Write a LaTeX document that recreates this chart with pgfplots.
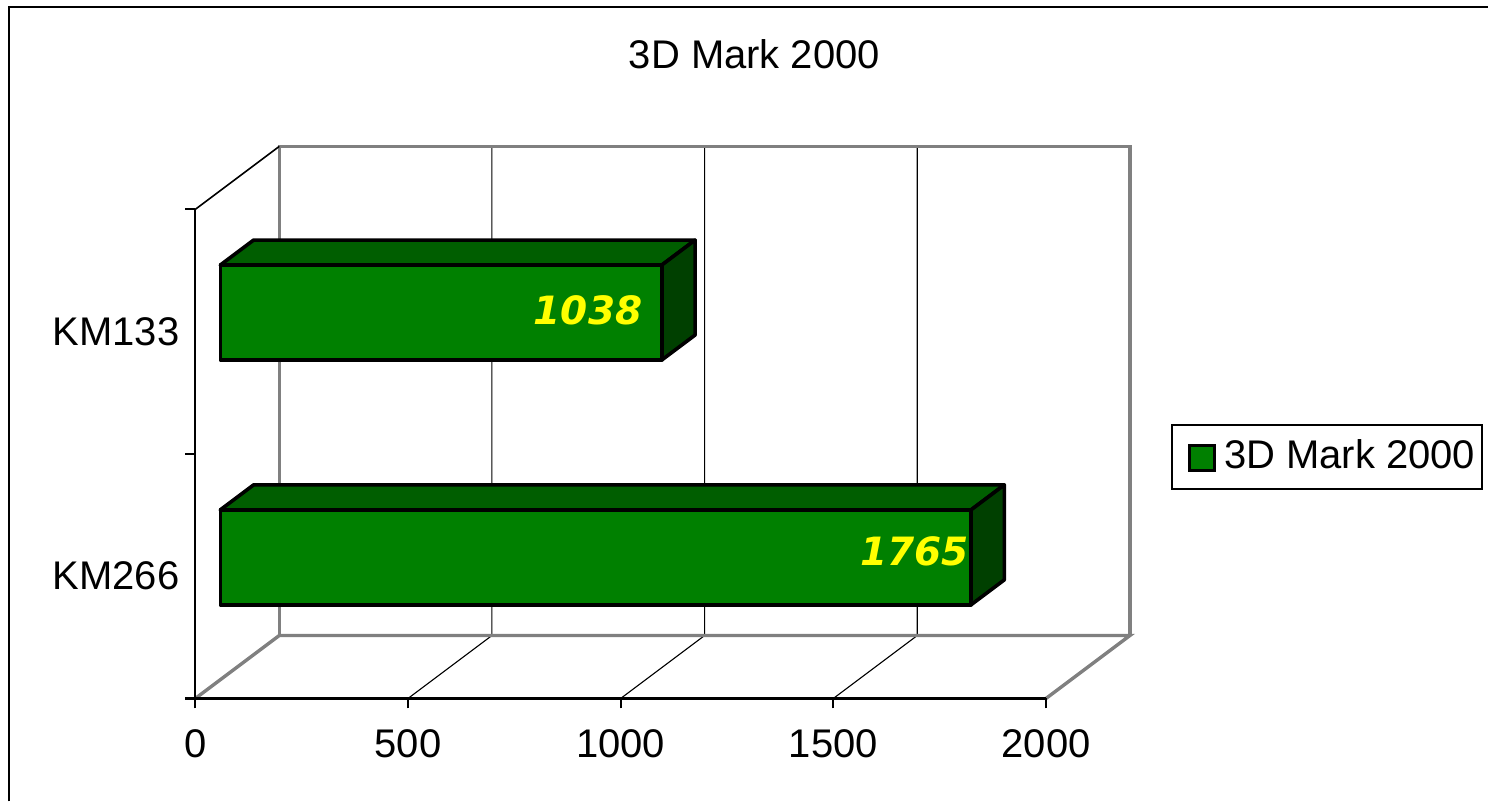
\documentclass[border=0pt]{standalone}
\usepackage{fontspec}
\setmainfont{Liberation Sans}
\newfontfamily\valfont{DejaVu Sans}
\usepackage{pgfplots}
\pgfplotsset{compat=1.18}

\definecolor{barfront}{RGB}{0,128,0}
\definecolor{bartop}{RGB}{0,94,0}
\definecolor{barside}{RGB}{0,64,0}
\definecolor{wallgray}{RGB}{128,128,128}
\definecolor{valyellow}{RGB}{255,255,0}
\newcommand\bigfont{\fontsize{20}{24}\selectfont}

% 1 px of the reference = 0.5pt; x = score, y = depth (0 front .. 1 back), z = height
\begin{document}
\bigfont
\begin{tikzpicture}
% walls, floor and the 3D bars
\begin{axis}[
  at={(0,0)}, anchor=origin,
  x={(0.21285pt,0pt)}, y={(42pt,31.5pt)}, z={(0pt,0.5pt)},
  xmin=0, xmax=2000, ymin=0, ymax=1, zmin=0, zmax=489.5,
  hide axis, clip=false,
]
  % grid on floor and back wall
  \addplot3[black, line width=0.55pt] coordinates {(500,0,0) (500,1,0) (500,1,489.5)};
  \addplot3[black, line width=0.55pt] coordinates {(1000,0,0) (1000,1,0) (1000,1,489.5)};
  \addplot3[black, line width=0.55pt] coordinates {(1500,0,0) (1500,1,0) (1500,1,489.5)};
  % floor and back wall edges
  \addplot3[wallgray, line width=1.7pt] coordinates {(0,0,0) (0,1,0) (2000,1,0) (2000,0,0)};
  \addplot3[wallgray, line width=1.7pt] coordinates {(0,1,0) (0,1,489.5) (2000,1,489.5) (2000,1,0)};
  \addplot3[black, line width=0.8pt] coordinates {(0,0,489.5) (0,1,489.5)};

  % KM133 = 1038
  \addplot3[fill=bartop, draw=black, line width=1.8pt, line join=round]
    coordinates {(0,0.2976,415) (1038,0.2976,415) (1038,0.694,415) (0,0.694,415)} -- cycle;
  \addplot3[fill=barside, draw=black, line width=1.8pt, line join=round]
    coordinates {(1038,0.2976,320) (1038,0.694,320) (1038,0.694,415) (1038,0.2976,415)} -- cycle;
  \addplot3[fill=barfront, draw=black, line width=1.8pt, line join=round]
    coordinates {(0,0.2976,320) (1038,0.2976,320) (1038,0.2976,415) (0,0.2976,415)} -- cycle;

  % KM266 = 1765
  \addplot3[fill=bartop, draw=black, line width=1.8pt, line join=round]
    coordinates {(0,0.2976,170) (1765,0.2976,170) (1765,0.694,170) (0,0.694,170)} -- cycle;
  \addplot3[fill=barside, draw=black, line width=1.8pt, line join=round]
    coordinates {(1765,0.2976,75) (1765,0.694,75) (1765,0.694,170) (1765,0.2976,170)} -- cycle;
  \addplot3[fill=barfront, draw=black, line width=1.8pt, line join=round]
    coordinates {(0,0.2976,75) (1765,0.2976,75) (1765,0.2976,170) (0,0.2976,170)} -- cycle;

  % value labels
  \addplot3[draw=none, mark=none, nodes near coords, point meta=explicit symbolic,
    nodes near coords style={font=\valfont\bfseries\itshape\fontsize{19.5}{22}\selectfont,
      text=valyellow, anchor=center, inner sep=0pt}]
    coordinates {(864.5,0.2976,369.75) [1038] (1632.6,0.2976,128.5) [1765]};
\end{axis}

% front axes, title, legend, outer frame
\begin{axis}[
  at={(0,0)}, anchor=origin,
  scale only axis, width=425.7pt, height=244.75pt,
  xmin=0, xmax=2000, ymin=0, ymax=489.5,
  axis x line*=bottom, axis y line*=left,
  axis line style={black, line width=1.1pt},
  tick align=outside, major tick length=5pt,
  tick style={black, line width=1.1pt},
  xtick={0,500,1000,1500,2000},
  ytick={0,244.75,489.5}, yticklabels={},
  extra y ticks={122.4,367.1}, extra y tick labels={KM266,KM133},
  extra y tick style={tick style={draw=none}},
  /pgf/number format/assume math mode=true,
  /pgf/number format/1000 sep={},
  every tick label/.append style={font=\bigfont, inner sep=0pt},
  xticklabel style={yshift=-10.5pt},
  yticklabel style={xshift=-2.8pt},
  title={3D Mark 2000},
  title style={at={(axis description cs:0.6572,1.2932)}, anchor=center,
    yshift=0pt, font=\bigfont, inner sep=0pt},
  legend style={at={(axis description cs:1.14695,0.5618)}, anchor=north west,
    draw=black, line width=1pt, fill=white, font=\bigfont,
    inner xsep=3.6pt, inner ysep=7.5pt,
    nodes={inner sep=0pt, text depth=2.85pt}, cells={anchor=west}},
  legend image code/.code={
    \path (0pt,0pt) (20.9pt,0pt);
    \draw[#1] (4.15pt,-6.6pt) rectangle (16.65pt,5.6pt);
  },
  clip=false,
]
  \addplot[draw=none, forget plot] coordinates {(-459.2,699) (3038.5,-103)};
  \addplot[black, line width=1.2pt, forget plot]
    coordinates {(-437.6,-103) (-437.6,692.1) (3038.5,692.1)};
  \addlegendimage{fill=barfront, draw=black, line width=1.6pt}
  \addlegendentry{3D Mark 2000}
\end{axis}
\end{tikzpicture}
\end{document}
